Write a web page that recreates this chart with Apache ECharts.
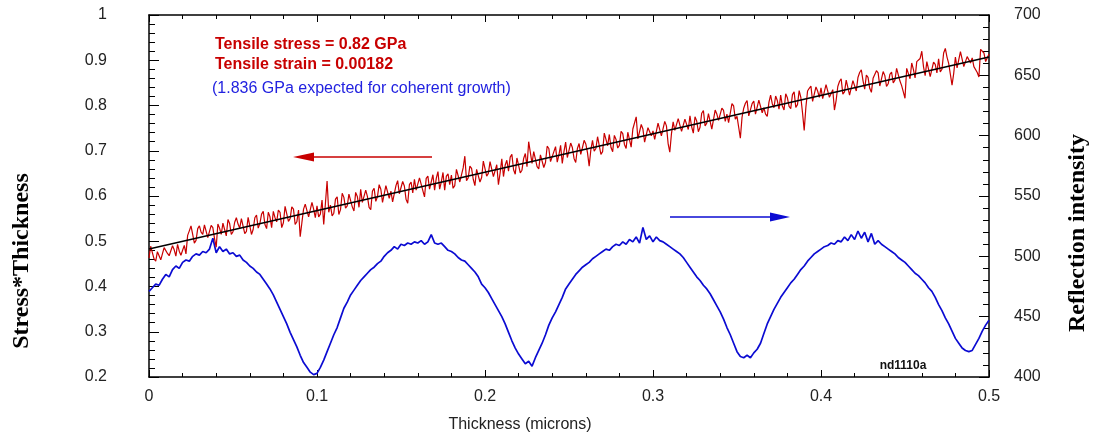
<!DOCTYPE html>
<html>
<head>
<meta charset="utf-8">
<script src="https://cdn.jsdelivr.net/npm/echarts@6/dist/echarts.min.js"></script>
<style>
  html, body { margin: 0; padding: 0; background: #fff; }
  #chart { width: 1093px; height: 436px; }
</style>
</head>
<body>
<div id="chart"></div>
<script>
// stress is sampled every 0.001 micron, reflection every 0.002 micron (0 .. 0.5)
const stressStep = 0.001;
const reflectionStep = 0.002;

// stress*thickness (left axis)
const stressThickness = [
  0.463, 0.489, 0.475, 0.461, 0.456, 0.477, 0.473, 0.459, 0.455, 0.486, 0.482, 0.473, 0.468, 0.464, 0.490, 0.481, 0.467, 0.493, 0.478, 0.469,
  0.480, 0.491, 0.472, 0.513, 0.523, 0.534, 0.515, 0.496, 0.502, 0.528, 0.534, 0.520, 0.515, 0.536, 0.532, 0.508, 0.504, 0.535, 0.530, 0.506,
  0.487, 0.538, 0.529, 0.515, 0.540, 0.526, 0.512, 0.548, 0.539, 0.515, 0.521, 0.542, 0.552, 0.538, 0.529, 0.550, 0.546, 0.517, 0.522, 0.553,
  0.549, 0.515, 0.526, 0.552, 0.558, 0.529, 0.539, 0.560, 0.566, 0.537, 0.528, 0.564, 0.554, 0.530, 0.566, 0.552, 0.543, 0.569, 0.564, 0.530,
  0.541, 0.577, 0.573, 0.544, 0.550, 0.576, 0.571, 0.537, 0.543, 0.569, 0.510, 0.541, 0.571, 0.582, 0.583, 0.554, 0.555, 0.586, 0.571, 0.552,
  0.578, 0.554, 0.560, 0.591, 0.537, 0.583, 0.633, 0.564, 0.580, 0.556, 0.562, 0.593, 0.598, 0.559, 0.570, 0.606, 0.597, 0.573, 0.578, 0.604,
  0.600, 0.576, 0.567, 0.608, 0.599, 0.575, 0.615, 0.586, 0.582, 0.613, 0.599, 0.575, 0.570, 0.611, 0.617, 0.588, 0.599, 0.625, 0.615, 0.586,
  0.587, 0.623, 0.624, 0.595, 0.611, 0.587, 0.587, 0.623, 0.634, 0.605, 0.606, 0.632, 0.622, 0.593, 0.584, 0.625, 0.631, 0.607, 0.637, 0.613,
  0.609, 0.640, 0.636, 0.612, 0.598, 0.639, 0.644, 0.615, 0.631, 0.647, 0.613, 0.639, 0.654, 0.615, 0.631, 0.652, 0.613, 0.644, 0.649, 0.625,
  0.646, 0.617, 0.623, 0.659, 0.660, 0.631, 0.631, 0.662, 0.688, 0.634, 0.640, 0.666, 0.661, 0.637, 0.623, 0.659, 0.660, 0.631, 0.641, 0.677,
  0.673, 0.644, 0.650, 0.676, 0.672, 0.643, 0.643, 0.669, 0.625, 0.651, 0.682, 0.643, 0.668, 0.679, 0.655, 0.686, 0.692, 0.658, 0.648, 0.684,
  0.680, 0.651, 0.657, 0.683, 0.694, 0.665, 0.720, 0.696, 0.672, 0.698, 0.694, 0.665, 0.660, 0.691, 0.692, 0.663, 0.674, 0.710, 0.705, 0.676,
  0.672, 0.698, 0.709, 0.675, 0.691, 0.712, 0.672, 0.698, 0.719, 0.685, 0.686, 0.717, 0.707, 0.683, 0.674, 0.705, 0.716, 0.692, 0.707, 0.723,
  0.715, 0.696, 0.666, 0.702, 0.723, 0.699, 0.705, 0.731, 0.731, 0.692, 0.698, 0.739, 0.725, 0.711, 0.736, 0.707, 0.698, 0.734, 0.725, 0.706,
  0.712, 0.743, 0.738, 0.714, 0.705, 0.741, 0.737, 0.708, 0.748, 0.749, 0.775, 0.726, 0.722, 0.758, 0.748, 0.719, 0.715, 0.751, 0.747, 0.733,
  0.744, 0.725, 0.725, 0.761, 0.762, 0.733, 0.734, 0.765, 0.755, 0.716, 0.697, 0.738, 0.764, 0.745, 0.745, 0.771, 0.772, 0.743, 0.739, 0.770,
  0.766, 0.747, 0.777, 0.753, 0.739, 0.775, 0.766, 0.742, 0.752, 0.783, 0.789, 0.755, 0.761, 0.782, 0.782, 0.748, 0.744, 0.790, 0.781, 0.767,
  0.763, 0.794, 0.789, 0.765, 0.781, 0.762, 0.758, 0.804, 0.799, 0.770, 0.776, 0.752, 0.728, 0.774, 0.794, 0.805, 0.811, 0.777, 0.778, 0.804,
  0.810, 0.781, 0.781, 0.812, 0.808, 0.784, 0.795, 0.781, 0.776, 0.807, 0.823, 0.804, 0.795, 0.821, 0.811, 0.792, 0.823, 0.799, 0.790, 0.826,
  0.817, 0.798, 0.793, 0.824, 0.830, 0.796, 0.802, 0.833, 0.818, 0.784, 0.745, 0.796, 0.832, 0.838, 0.843, 0.809, 0.810, 0.841, 0.832, 0.818,
  0.839, 0.815, 0.815, 0.846, 0.847, 0.818, 0.814, 0.835, 0.790, 0.811, 0.842, 0.853, 0.859, 0.825, 0.830, 0.856, 0.852, 0.823, 0.819, 0.855,
  0.851, 0.832, 0.862, 0.873, 0.879, 0.855, 0.836, 0.867, 0.862, 0.838, 0.829, 0.860, 0.856, 0.877, 0.872, 0.843, 0.839, 0.875, 0.866, 0.842,
  0.848, 0.869, 0.874, 0.850, 0.856, 0.882, 0.883, 0.854, 0.844, 0.830, 0.816, 0.882, 0.878, 0.859, 0.894, 0.880, 0.861, 0.897, 0.893, 0.904,
  0.920, 0.886, 0.866, 0.897, 0.893, 0.864, 0.860, 0.896, 0.891, 0.872, 0.903, 0.874, 0.880, 0.916, 0.926, 0.907, 0.893, 0.869, 0.845, 0.871,
  0.907, 0.883, 0.883, 0.919, 0.915, 0.886, 0.882, 0.908, 0.908, 0.894, 0.905, 0.886, 0.882, 0.873, 0.863, 0.924, 0.920, 0.916, 0.897, 0.893, 0.914
];

// reflection intensity (right axis)
const reflection = [
  471, 474, 477, 476, 481, 485, 483, 489, 492, 490,
  495, 497, 496, 500, 502, 501, 504, 503, 506, 515,
  503, 508, 504, 506, 502, 503, 500, 501, 497, 495,
  492, 490, 487, 485, 481, 477, 473, 468, 462, 456,
  450, 444, 437, 431, 425, 418, 412, 408, 404, 402,
  403, 408, 414, 421, 428, 435, 441, 449, 457, 462,
  468, 472, 476, 480, 483, 486, 489, 491, 494, 496,
  500, 503, 505, 508, 506, 510, 509, 511, 510, 512,
  511, 513, 510, 512, 518, 511, 510, 511, 508, 505,
  504, 502, 499, 497, 496, 493, 490, 487, 483, 477,
  474, 470, 465, 460, 455, 450, 444, 437, 430, 424,
  419, 415, 411, 413, 409, 416, 422, 428, 435, 443,
  449, 454, 460, 466, 473, 477, 481, 485, 488, 491,
  493, 495, 498, 500, 502, 504, 506, 505, 508, 510,
  509, 512, 510, 514, 512, 516, 511, 524, 514, 517,
  512, 516, 513, 512, 510, 508, 506, 504, 502, 499,
  495, 491, 487, 483, 480, 476, 473, 469, 464, 459,
  454, 448, 441, 435, 428, 421, 417, 416, 418, 416,
  420, 423, 428, 436, 444, 450, 456, 461, 466, 470,
  474, 478, 481, 485, 489, 492, 496, 499, 502, 504,
  506, 508, 509, 511, 510, 513, 512, 516, 513, 518,
  514, 521, 515, 520, 512, 519, 510, 513, 510, 508,
  506, 504, 502, 499, 497, 495, 492, 489, 486, 484,
  481, 478, 474, 471, 466, 460, 455, 449, 444, 438,
  432, 428, 424, 422, 421, 422, 427, 432, 438, 443, 447
];

// linear fit through the stress data
const fitThickness = [0, 0.5];
const fitStress = [0.483, 0.907];

// tick values
const xTicks = [0, 0.1, 0.2, 0.3, 0.4, 0.5];
const leftTicks = [0.2, 0.3, 0.4, 0.5, 0.6, 0.7, 0.8, 0.9, 1];
const rightTicks = [400, 450, 500, 550, 600, 650, 700];

const RED = '#c80000';
const BLUE = '#0b0bd2';
const SANS = '"Liberation Sans", Arial, sans-serif';
const SERIF = '"Liberation Serif", "Times New Roman", serif';

const toPairs = (values, step) => values.map((v, i) => [+(i * step).toFixed(4), v]);

const axisLine = { show: true, onZero: false, lineStyle: { color: '#000', width: 1.5 } };
const tickStyle = { color: '#000', width: 1 };

const chart = echarts.init(document.getElementById('chart'));

const baseX = {
  type: 'value',
  min: xTicks[0],
  max: xTicks[xTicks.length - 1],
  interval: xTicks[1] - xTicks[0],
  axisLine,
  axisTick: { inside: true, length: 7, lineStyle: tickStyle },
  minorTick: { show: true, splitNumber: 5, length: 4, lineStyle: tickStyle },
  splitLine: { show: false },
  minorSplitLine: { show: false },
};

const baseY = {
  type: 'value',
  axisLine,
  axisTick: { inside: true, length: 10, lineStyle: tickStyle },
  minorTick: { show: true, splitNumber: 5, length: 6, lineStyle: tickStyle },
  splitLine: { show: false },
  minorSplitLine: { show: false },
};

chart.setOption({
  animation: false,
  backgroundColor: '#fff',
  grid: { left: 149, right: 104, top: 15, bottom: 59, containLabel: false },
  xAxis: [
    {
      ...baseX,
      position: 'bottom',
      axisLabel: { fontSize: 16, color: '#222', margin: 12, fontFamily: SANS },
    },
    {
      ...baseX,
      position: 'top',
      axisLabel: { show: false },
    },
  ],
  yAxis: [
    {
      ...baseY,
      position: 'left',
      min: leftTicks[0],
      max: leftTicks[leftTicks.length - 1],
      interval: 0.1,
      axisLabel: { fontSize: 16, color: '#222', margin: 42, fontFamily: SANS },
    },
    {
      ...baseY,
      position: 'right',
      min: rightTicks[0],
      max: rightTicks[rightTicks.length - 1],
      interval: rightTicks[1] - rightTicks[0],
      axisLabel: { fontSize: 16, color: '#222', margin: 25, fontFamily: SANS },
    },
  ],
  series: [
    {
      name: 'Reflection intensity',
      type: 'line',
      xAxisIndex: 0,
      yAxisIndex: 1,
      showSymbol: false,
      data: toPairs(reflection, reflectionStep),
      lineStyle: { color: BLUE, width: 1.7 },
      z: 2,
    },
    {
      name: 'Stress*Thickness',
      type: 'line',
      xAxisIndex: 0,
      yAxisIndex: 0,
      showSymbol: false,
      data: toPairs(stressThickness, stressStep),
      lineStyle: { color: RED, width: 1.2 },
      z: 3,
    },
    {
      name: 'fit',
      type: 'line',
      xAxisIndex: 0,
      yAxisIndex: 0,
      showSymbol: false,
      data: fitThickness.map((t, i) => [t, fitStress[i]]),
      lineStyle: { color: '#000', width: 1.5 },
      z: 4,
    },
  ],
  graphic: [
    {
      type: 'text', x: 22, y: 261, rotation: Math.PI / 2,
      style: { text: 'Stress*Thickness', font: 'bold 24px ' + SERIF, fill: '#000',
        textAlign: 'center', textVerticalAlign: 'middle' },
    },
    {
      type: 'text', x: 1078, y: 233, rotation: Math.PI / 2,
      style: { text: 'Reflection intensity', font: 'bold 24px ' + SERIF, fill: '#000',
        textAlign: 'center', textVerticalAlign: 'middle' },
    },
    {
      type: 'text', x: 520, y: 425,
      style: { text: 'Thickness (microns)', font: '16px ' + SANS, fill: '#222',
        textAlign: 'center', textVerticalAlign: 'middle' },
    },
    {
      type: 'text', x: 215, y: 45,
      style: { text: 'Tensile stress = 0.82 GPa', font: 'bold 16px ' + SANS, fill: RED,
        textAlign: 'left', textVerticalAlign: 'middle' },
    },
    {
      type: 'text', x: 215, y: 65,
      style: { text: 'Tensile strain = 0.00182', font: 'bold 16px ' + SANS, fill: RED,
        textAlign: 'left', textVerticalAlign: 'middle' },
    },
    {
      type: 'text', x: 212, y: 89,
      style: { text: '(1.836 GPa expected for coherent growth)', font: '16px ' + SANS, fill: '#2222e0',
        textAlign: 'left', textVerticalAlign: 'middle' },
    },
    {
      type: 'text', x: 903, y: 366,
      style: { text: 'nd1110a', font: 'bold 12px ' + SANS, fill: '#111',
        textAlign: 'center', textVerticalAlign: 'middle' },
    },
    // arrows telling which axis each trace belongs to
    {
      type: 'line', shape: { x1: 310, y1: 157, x2: 432, y2: 157 },
      style: { stroke: RED, lineWidth: 1.5 },
    },
    {
      type: 'polygon', shape: { points: [[293, 157], [314, 152.5], [314, 161.5]] },
      style: { fill: RED },
    },
    {
      type: 'line', shape: { x1: 670, y1: 217, x2: 774, y2: 217 },
      style: { stroke: BLUE, lineWidth: 1.5 },
    },
    {
      type: 'polygon', shape: { points: [[790, 217], [770, 212.5], [770, 221.5]] },
      style: { fill: BLUE },
    },
  ],
});
</script>
</body>
</html>
